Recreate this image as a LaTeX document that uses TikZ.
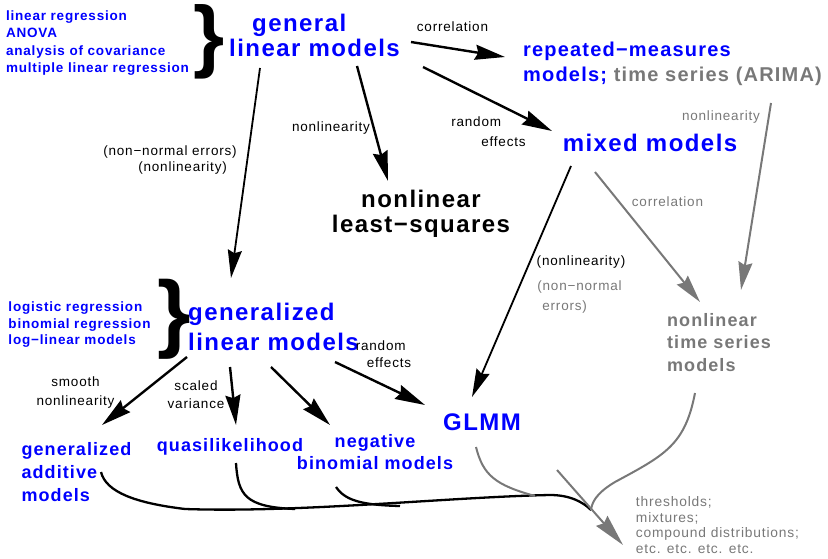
\documentclass[tikz,border=0pt]{standalone}
\usepackage{fontspec}
\setmainfont{Liberation Sans}[LetterSpace=6]
\usetikzlibrary{arrows.meta,calc}
\definecolor{tblue}{RGB}{0,0,255}
\definecolor{tgray}{RGB}{120,120,120}
\newcommand{\fsz}[2]{\fontsize{#1}{#2}\selectfont}
\begin{document}
\begin{tikzpicture}[x=1pt,y=-1pt,
  every node/.style={inner sep=0pt,outer sep=0pt},
  bigb/.style={text=tblue,font=\bfseries\fsz{24}{25}},
  bigk/.style={text=black,font=\bfseries\fsz{24}{25}},
  midb/.style={text=tblue,font=\bfseries\fsz{18}{23}},
  midg/.style={text=tgray,font=\bfseries\fsz{18}{22.5}},
  listb/.style={text=tblue,font=\bfseries\fsz{13.5}{17.3}},
  lab/.style={text=black,font=\fsz{13.5}{16}},
  labg/.style={text=tgray,font=\fsz{13.5}{20}},
  bracek/.style={text=black,font=\bfseries\fsz{80}{80}},
  arr/.style={draw=black,line width=2.4pt,-{Stealth[length=30pt,width=15pt,inset=3pt]}},
  thinarr/.style={draw=black,line width=1.8pt,-{Stealth[length=28pt,width=14pt,inset=3pt]}},
  garr/.style={draw=tgray,line width=2pt,-{Stealth[length=28pt,width=14pt,inset=3pt]}},
  bcurve/.style={draw=black,line width=2.3pt},
  gcurve/.style={draw=tgray,line width=2pt}]
\useasboundingbox (0,0) rectangle (828,559);

% main nodes
\node[bigb,align=left] (glm) at (314.5,35) {\hspace*{23pt}general\\linear models};
\node[text=tblue,font=\bfseries\fsz{20}{25},align=left] (rm) at (672.5,64) {repeated−measures\\models; \textcolor{tgray}{time series (ARIMA)}};
\node[bigb] (mixed) at (650,142.5) {mixed models};
\node[bigk,align=center] (nls) at (421,214) {nonlinear\\least−squares};
\node[text=tblue,font=\bfseries\fsz{24}{30},align=left] (glm2) at (273.5,326.5) {generalized\\linear models};
\node[bigb] (glmm) at (482,422) {GLMM};
\node[midg,align=left] (nlts) at (719,342.5) {nonlinear\\time series\\models};
\node[midb,align=left] (gam) at (76.5,472.5) {generalized\\additive\\models};
\node[midb] (quasi) at (230,446.5) {quasilikelihood};
\node[text=tblue,font=\bfseries\fsz{18}{22},align=center] (negbin) at (375,452.5) {negative\\binomial models};
\node[text=tgray,font=\fsz{13.8}{15.5},align=left] (thr) at (717.5,525) {thresholds;\\mixtures;\\compound distributions;\\etc. etc. etc. etc.};
\node[listb,align=left] (lst1) at (97.5,43) {linear regression\\ANOVA\\analysis of covariance\\multiple linear regression};
\node[listb,font=\bfseries\fsz{13.5}{16.5},align=left] (lst2) at (79.5,325) {logistic regression\\binomial regression\\log−linear models};
\node[bracek] (br1) at (209,42) {\}};
\node[bracek,font=\bfseries\fsz{86}{86}] (br2) at (174,319) {\}};

% labels
\node[lab] (lcorr) at (452.5,27) {correlation};
\node[lab,font=\fsz{13.5}{20},align=left] (lre1) at (488.5,132) {random\\\hspace*{30pt}effects};
\node[lab] (lnl1) at (331,128) {nonlinearity};
\node[lab,align=left] (lnne) at (170,160) {(non−normal errors)\\\hspace*{35pt}(nonlinearity)};
\node[lab] (lnl2) at (581,262.5) {(nonlinearity)};
\node[labg,align=left] (lnne2) at (579.5,297.5) {(non−normal\\\hspace*{5pt}errors)};
\node[labg] (lcorr2) at (667.5,202) {correlation};
\node[labg] (lnl3) at (721,117.5) {nonlinearity};
\node[lab,font=\fsz{13.5}{17},align=left] (lre2) at (383.5,354.5) {random\\\hspace*{11pt}effects};
\node[lab,font=\fsz{13.5}{19},align=center] (lsn) at (75.5,392.5) {smooth\\nonlinearity};
\node[lab,font=\fsz{13.5}{18},align=center] (lsv) at (196,394.5) {scaled\\variance};

% connectors
\draw[arr] ($(glm)+(96.5,7)$) -- ($(rm)+(-167.5,-7)$);
\draw[arr] ($(glm)+(108.5,32)$) -- ($(mixed)+(-98,-11.5)$);
\draw[arr] ($(glm)+(42.5,31)$) -- ($(nls)+(-33,-33)$);
\draw[thinarr] ($(glm)+(-54.5,33)$) -- ($(glm2)+(-42.5,-48.5)$);
\draw[garr] ($(rm)+(98.5,39)$) -- ($(nlts)+(22,-52.5)$);
\draw[thinarr] ($(mixed)+(-79,23.5)$) -- ($(glmm)+(-10,-25)$);
\draw[garr] ($(mixed)+(-55,29.5)$) -- ($(nlts)+(-19,-40.5)$);
\draw[arr] ($(glm2)+(61.5,35.5)$) -- ($(glmm)+(-57,-17)$);
\draw[arr] ($(glm2)+(-86.5,30.5)$) -- ($(gam)+(25.5,-47.5)$);
\draw[arr] ($(glm2)+(-43.5,40.5)$) -- ($(quasi)+(6,-21.5)$);
\draw[arr] ($(glm2)+(-2.5,40.5)$) -- ($(negbin)+(-45,-27.5)$);

% bottom merging curves
\coordinate (M) at (591,510);
\coordinate (A0) at (557,470);
\draw[bcurve] ($(gam)+(24.5,-0.5)$) .. controls (106,492) and (135,503) .. (185,509)
  .. controls (300,513) and (450,497) .. (550,495)
  .. controls (570,495) and (583,502) .. (M);
\draw[bcurve] ($(quasi)+(6,16.5)$) .. controls (238,495) and (245,507) .. (295,509);
\draw[bcurve] ($(negbin)+(-39,34.5)$) .. controls (345,500) and (360,505) .. (400,506);
\draw[gcurve] ($(glmm)+(-6,25)$) .. controls (483,475) and (495,485) .. (535,496);
\draw[gcurve] ($(nlts)+(-24,50.5)$) .. controls (685,445) and (665,455) .. (615,482)
  .. controls (595,494) and (592,503) .. (M);
\draw[garr,-{Stealth[length=32pt,width=15pt,inset=3pt]}] (A0) -- ($(thr)+(-94.5,20)$);
\end{tikzpicture}
\end{document}
